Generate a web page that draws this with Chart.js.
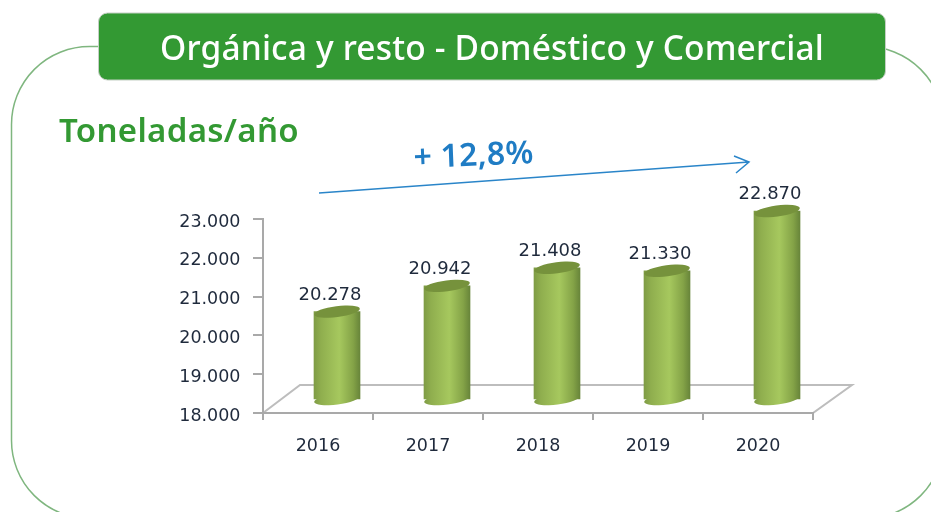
<!DOCTYPE html>
<html><head><meta charset="utf-8">
<script src="https://cdn.jsdelivr.net/npm/chart.js@4"></script>
<style>html,body{margin:0;padding:0;background:#fff}canvas{display:block}</style>
</head><body><canvas id="c" width="931" height="512"></canvas>
<script>
const categories = ['2016','2017','2018','2019','2020'];
const toneladas = [20278,20942,21408,21330,22870];
const yMin = 18000, yMax = 23000, yStep = 1000;
const titleText = 'Orgánica y resto - Doméstico y Comercial';
const unitText = 'Toneladas/año';
const changeText = '+ 12,8%';

const fmt = v => String(v).replace(/\B(?=(\d{3})+(?!\d))/g,'.');
const DX = 19, DY = -13;   // depth shift of the cylinders on the 3D floor
const tickFont = {family:'"DejaVu Sans"', size:17.5};
const tickColor = '#1f2a3c', axisColor = '#a9a9a9';

function barGradient(c, l, r){
  const g = c.createLinearGradient(l,0,r,0);
  g.addColorStop(0,'#7f9c45'); g.addColorStop(.15,'#8fae4e');
  g.addColorStop(.55,'#a6c85e'); g.addColorStop(.85,'#84a347'); g.addColorStop(1,'#68853a');
  return g;
}
function fitText(c, text, x, y, width){
  c.letterSpacing='0px';
  const sp=(width-c.measureText(text).width)/text.length;
  c.letterSpacing=sp.toFixed(2)+'px';
  c.fillText(text,x,y);
  c.letterSpacing='0px';
}
const scene = {
  id:'scene',
  beforeDraw(ch){
    const c = ch.ctx, a = ch.chartArea;
    c.save();
    c.fillStyle='#fff'; c.fillRect(0,0,ch.width,ch.height);
    c.strokeStyle='#7fb67f'; c.lineWidth=1.5;
    c.beginPath(); c.roundRect(11.5,46.5,932,472,78); c.stroke();
    c.fillStyle='#339933'; c.strokeStyle='#c4cfc4'; c.lineWidth=1;
    c.beginPath(); c.roundRect(98.5,13,787,67,9); c.fill(); c.stroke();
    c.fillStyle='#fff'; c.font='500 33.5px "Noto Sans"'; c.textBaseline='alphabetic'; c.textAlign='left';
    fitText(c,titleText,160,60,664);
    c.fillStyle='#339933'; c.font='600 33px "Noto Sans"';
    fitText(c,unitText,59,142,240);
    c.strokeStyle='#2a85c9'; c.lineWidth=1.5;
    c.beginPath(); c.moveTo(319,193); c.lineTo(749,162);
    c.moveTo(734,156); c.lineTo(749,162); c.lineTo(736,173); c.stroke();
    c.save(); c.translate(414,168); c.rotate(-0.04);
    c.fillStyle='#1f7cc4'; c.font='600 32px "Noto Sans"';
    fitText(c,changeText,0,0,120); c.restore();
    // floor of the 3D plot
    const b=a.bottom, l=a.left, r=a.right;
    c.fillStyle='#fff'; c.strokeStyle='#bdbdbd'; c.lineWidth=2;
    c.beginPath(); c.moveTo(l,b); c.lineTo(l+37,b-28); c.lineTo(r+39,b-28); c.lineTo(r,b); c.closePath(); c.fill(); c.stroke();
    c.restore();
  },
  beforeDatasetDraw(ch){ ch.ctx.save(); ch.ctx.translate(DX,DY); },
  afterDatasetDraw(ch,args){
    const c=ch.ctx;
    args.meta.data.forEach(el=>{
      const hw=el.width/2;
      c.fillStyle=barGradient(c,el.x-hw,el.x+hw);
      c.beginPath(); c.ellipse(el.x,el.base,hw,5.5,-0.13,0,Math.PI*2); c.fill();
      c.fillStyle='#76923c';
      c.beginPath(); c.ellipse(el.x,el.y,hw,5.5,-0.13,0,Math.PI*2); c.fill();
    });
    c.restore();
    c.save();
    c.font='18px "DejaVu Sans"'; c.fillStyle=tickColor; c.textAlign='center'; c.textBaseline='middle';
    args.meta.data.forEach((el,i)=>{ c.fillText(fmt(toneladas[i]),el.x+DX-7,el.y+DY-5.5-11); });
    c.restore();
  }
};
new Chart(document.getElementById('c'),{
  type:'bar',
  data:{labels:categories,datasets:[{data:toneladas,base:yMin,barThickness:46,borderWidth:0,clip:false,
    backgroundColor(ctx){
      const ch=ctx.chart;
      if(!ch.chartArea||ctx.dataIndex===undefined) return '#98b954';
      const x=ch.scales.x.getPixelForValue(ctx.dataIndex);
      return barGradient(ch.ctx,x-23,x+23);
    }}]},
  options:{
    responsive:false,animation:false,
    layout:{padding:{left:0,right:118,top:219,bottom:0}},
    plugins:{legend:{display:false},tooltip:{enabled:false},title:{display:false}},
    scales:{
      x:{afterFit(s){s.height=99;},
        grid:{drawOnChartArea:false,color:axisColor,tickLength:7,lineWidth:2},
        border:{color:axisColor,width:2},
        ticks:{font:tickFont,color:tickColor,padding:16,maxRotation:0}},
      y:{min:yMin,max:yMax,afterFit(s){s.width=263;},
        grid:{drawOnChartArea:false,color:axisColor,tickLength:10,lineWidth:2},
        border:{color:axisColor,width:2},
        ticks:{stepSize:yStep,font:tickFont,color:tickColor,padding:12.5,labelOffset:3,callback:v=>fmt(v)}}
    }
  },
  plugins:[scene]
});
</script></body></html>
